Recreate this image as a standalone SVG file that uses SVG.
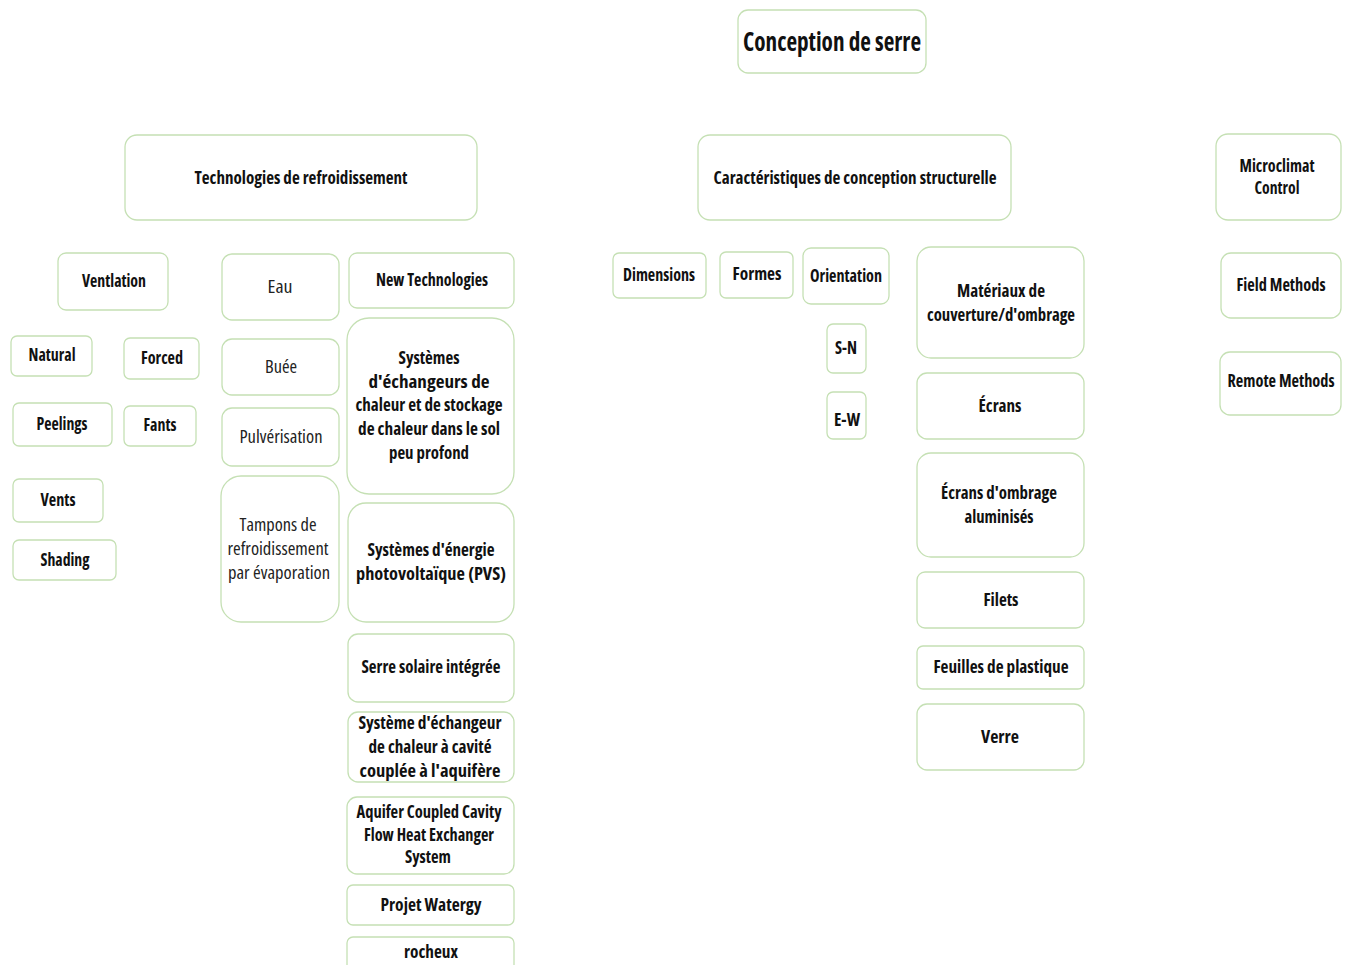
<svg xmlns="http://www.w3.org/2000/svg" width="1346" height="965" viewBox="0 0 1346 965">
<style>
rect{fill:#fff;stroke:#c5e0b4;stroke-width:1.3}
text{font-family:"Open Sans","Liberation Sans",sans-serif;font-size:18px;font-weight:700;font-stretch:condensed;fill:#111;text-anchor:middle}
text.r{font-weight:400;fill:#222}
text.big{font-size:26px}
</style>
<rect x="0" y="0" width="1346" height="965" style="fill:#fff;stroke:none"/>
<g id="connectors"></g>
<g id="n-root"><rect x="738" y="10" width="188" height="63" rx="10"/><text class="big" x="832" y="51" textLength="178" lengthAdjust="spacingAndGlyphs">Conception de serre</text></g>
<g id="n-tech"><rect x="125" y="135" width="352" height="85" rx="12"/><text x="301" y="184" textLength="213" lengthAdjust="spacingAndGlyphs">Technologies de refroidissement</text></g>
<g id="n-struct"><rect x="698" y="135" width="313" height="85" rx="12"/><text x="855" y="184" textLength="283" lengthAdjust="spacingAndGlyphs">Caractéristiques de conception structurelle</text></g>
<g id="n-micro"><rect x="1216" y="134" width="125" height="86" rx="12"/><text x="1277" y="172" textLength="75" lengthAdjust="spacingAndGlyphs">Microclimat</text><text x="1277" y="194" textLength="45" lengthAdjust="spacingAndGlyphs">Control</text></g>
<g id="n-vent"><rect x="58" y="253" width="110" height="57" rx="8"/><text x="114" y="287" textLength="64" lengthAdjust="spacingAndGlyphs">Ventlation</text></g>
<g id="n-eau"><rect x="222" y="254" width="117" height="66" rx="10"/><text class="r" x="280" y="293" textLength="25" lengthAdjust="spacingAndGlyphs">Eau</text></g>
<g id="n-newtech"><rect x="349" y="253" width="165" height="55" rx="8"/><text x="432" y="286" textLength="112" lengthAdjust="spacingAndGlyphs">New Technologies</text></g>
<g id="n-natural"><rect x="11" y="336" width="81" height="40" rx="6"/><text x="52" y="361" textLength="47" lengthAdjust="spacingAndGlyphs">Natural</text></g>
<g id="n-forced"><rect x="124" y="338" width="75" height="41" rx="6"/><text x="162" y="364" textLength="42" lengthAdjust="spacingAndGlyphs">Forced</text></g>
<g id="n-buee"><rect x="222" y="339" width="117" height="56" rx="10"/><text class="r" x="281" y="373" textLength="32" lengthAdjust="spacingAndGlyphs">Buée</text></g>
<g id="n-peelings"><rect x="13" y="403" width="99" height="43" rx="6"/><text x="62" y="430" textLength="51" lengthAdjust="spacingAndGlyphs">Peelings</text></g>
<g id="n-fants"><rect x="124" y="406" width="72" height="40" rx="6"/><text x="160" y="431" textLength="33" lengthAdjust="spacingAndGlyphs">Fants</text></g>
<g id="n-pulv"><rect x="222" y="408" width="117" height="58" rx="10"/><text class="r" x="281" y="443" textLength="83" lengthAdjust="spacingAndGlyphs">Pulvérisation</text></g>
<g id="n-vents"><rect x="13" y="479" width="90" height="43" rx="6"/><text x="58" y="506" textLength="35" lengthAdjust="spacingAndGlyphs">Vents</text></g>
<g id="n-shading"><rect x="13" y="540" width="103" height="40" rx="6"/><text x="65" y="566" textLength="49" lengthAdjust="spacingAndGlyphs">Shading</text></g>
<g id="n-tampons"><rect x="221" y="476" width="118" height="146" rx="20"/><text class="r" x="278" y="531" textLength="77" lengthAdjust="spacingAndGlyphs">Tampons de</text><text class="r" x="278" y="555" textLength="101" lengthAdjust="spacingAndGlyphs">refroidissement</text><text class="r" x="279" y="579" textLength="102" lengthAdjust="spacingAndGlyphs">par évaporation</text></g>
<g id="n-sys1"><rect x="347" y="318" width="167" height="176" rx="22"/><text x="429" y="364" textLength="61" lengthAdjust="spacingAndGlyphs">Systèmes</text><text x="429" y="388" textLength="121" lengthAdjust="spacingAndGlyphs">d'échangeurs de</text><text x="429" y="411" textLength="147" lengthAdjust="spacingAndGlyphs">chaleur et de stockage</text><text x="429" y="435" textLength="142" lengthAdjust="spacingAndGlyphs">de chaleur dans le sol</text><text x="429" y="459" textLength="80" lengthAdjust="spacingAndGlyphs">peu profond</text></g>
<g id="n-pvs"><rect x="348" y="503" width="166" height="119" rx="18"/><text x="431" y="556" textLength="127" lengthAdjust="spacingAndGlyphs">Systèmes d'énergie</text><text x="431" y="580" textLength="150" lengthAdjust="spacingAndGlyphs">photovoltaïque (PVS)</text></g>
<g id="n-serre"><rect x="348" y="634" width="166" height="68" rx="10"/><text x="431" y="673" textLength="139" lengthAdjust="spacingAndGlyphs">Serre solaire intégrée</text></g>
<g id="n-sys2"><rect x="348" y="712" width="166" height="70" rx="10"/><text x="430" y="729" textLength="143" lengthAdjust="spacingAndGlyphs">Système d'échangeur</text><text x="430" y="753" textLength="123" lengthAdjust="spacingAndGlyphs">de chaleur à cavité</text><text x="430" y="777" textLength="141" lengthAdjust="spacingAndGlyphs">couplée à l'aquifère</text></g>
<g id="n-aquifer"><rect x="347" y="797" width="167" height="77" rx="10"/><text x="429" y="818" textLength="145" lengthAdjust="spacingAndGlyphs">Aquifer Coupled Cavity</text><text x="429" y="841" textLength="130" lengthAdjust="spacingAndGlyphs">Flow Heat Exchanger</text><text x="428" y="863" textLength="46" lengthAdjust="spacingAndGlyphs">System</text></g>
<g id="n-watergy"><rect x="347" y="885" width="167" height="40" rx="6"/><text x="431" y="911" textLength="101" lengthAdjust="spacingAndGlyphs">Projet Watergy</text></g>
<g id="n-rocheux"><rect x="347" y="937" width="167" height="40" rx="6"/><text x="431" y="958" textLength="54" lengthAdjust="spacingAndGlyphs">rocheux</text></g>
<g id="n-dim"><rect x="613" y="253" width="93" height="45" rx="6"/><text x="659" y="281" textLength="72" lengthAdjust="spacingAndGlyphs">Dimensions</text></g>
<g id="n-formes"><rect x="720" y="252" width="73" height="46" rx="6"/><text x="757" y="280" textLength="49" lengthAdjust="spacingAndGlyphs">Formes</text></g>
<g id="n-orient"><rect x="803" y="248" width="86" height="56" rx="8"/><text x="846" y="282" textLength="72" lengthAdjust="spacingAndGlyphs">Orientation</text></g>
<g id="n-sn"><rect x="827" y="324" width="39" height="49" rx="6"/><text x="846" y="354" textLength="22" lengthAdjust="spacingAndGlyphs">S-N</text></g>
<g id="n-ew"><rect x="827" y="392" width="39" height="47" rx="6"/><text x="847" y="426" textLength="26" lengthAdjust="spacingAndGlyphs">E-W</text></g>
<g id="n-mat"><rect x="917" y="247" width="167" height="111" rx="14"/><text x="1001" y="297" textLength="88" lengthAdjust="spacingAndGlyphs">Matériaux de</text><text x="1001" y="321" textLength="148" lengthAdjust="spacingAndGlyphs">couverture/d'ombrage</text></g>
<g id="n-ecrans"><rect x="917" y="373" width="167" height="66" rx="10"/><text x="1000" y="412" textLength="43" lengthAdjust="spacingAndGlyphs">Écrans</text></g>
<g id="n-ecrans2"><rect x="917" y="453" width="167" height="104" rx="14"/><text x="999" y="499" textLength="116" lengthAdjust="spacingAndGlyphs">Écrans d'ombrage</text><text x="999" y="523" textLength="69" lengthAdjust="spacingAndGlyphs">aluminisés</text></g>
<g id="n-filets"><rect x="917" y="572" width="167" height="56" rx="8"/><text x="1001" y="606" textLength="35" lengthAdjust="spacingAndGlyphs">Filets</text></g>
<g id="n-feuilles"><rect x="917" y="646" width="167" height="43" rx="6"/><text x="1001" y="673" textLength="135" lengthAdjust="spacingAndGlyphs">Feuilles de plastique</text></g>
<g id="n-verre"><rect x="917" y="704" width="167" height="66" rx="10"/><text x="1000" y="743" textLength="38" lengthAdjust="spacingAndGlyphs">Verre</text></g>
<g id="n-field"><rect x="1221" y="253" width="120" height="65" rx="10"/><text x="1281" y="291" textLength="89" lengthAdjust="spacingAndGlyphs">Field Methods</text></g>
<g id="n-remote"><rect x="1220" y="352" width="121" height="63" rx="10"/><text x="1281" y="387" textLength="107" lengthAdjust="spacingAndGlyphs">Remote Methods</text></g>
</svg>
